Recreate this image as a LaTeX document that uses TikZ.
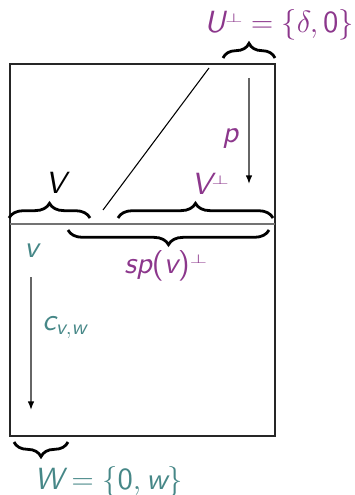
\RequirePackage{fix-cm}
\documentclass[tikz,border=0pt]{standalone}
\usepackage{amsmath}
\usepackage{fontspec}
\setsansfont{lmsans10-regular.otf}[ItalicFont=lmsans10-oblique.otf]
\usetikzlibrary{decorations.pathreplacing,arrows.meta}
\definecolor{vpurple}{RGB}{140,55,140}
\definecolor{vteal}{RGB}{70,135,135}
\newcommand\sv[1]{\textsf{\itshape #1}}
\newcommand\psup{\raisebox{7.5pt}{\scalebox{0.72}[0.42]{$\perp$}}}
\begin{document}
\begin{tikzpicture}[x=0.75pt,y=-0.75pt,
  lab/.style={anchor=base west,inner sep=0pt,font=\fontsize{23}{28}\selectfont},
  brc/.style={decorate,decoration={brace,amplitude=11pt},line width=2.1pt},
  brcm/.style={decorate,decoration={brace,amplitude=11pt,mirror},line width=2.1pt},
  arr/.style={draw=black!60,line width=1.1pt,-{Latex[length=6.5pt,width=5pt,color=black]}},
  box/.style={draw=black!85,line width=0.8pt}]
\useasboundingbox (0,0) rectangle (354,495);
% box
\coordinate (tl) at (10,64);
\coordinate (br) at (275,436);
\draw[box] (tl) rectangle (br);
\coordinate (ml) at (10,224);
\coordinate (mr) at (275,224);
\draw[draw=black!55,line width=1.1pt] (ml) -- (mr);
% diagonal
\coordinate (d1) at (209,68);
\coordinate (d2) at (103,210);
\draw[line width=0.8pt] (d1) -- (d2);
% arrows
\coordinate (p1) at (249,78);
\coordinate (p2) at (249,184);
\draw[arr] (p1) -- (p2);
\coordinate (c1) at (31,277);
\coordinate (c2) at (31,410);
\draw[arr] (c1) -- (c2);
% braces
\coordinate (ua) at (223,58); \coordinate (ub) at (275,58);
\draw[brc] (ua) -- (ub);
\coordinate (va) at (9,218); \coordinate (vb) at (90,218);
\draw[brc] (va) -- (vb);
\coordinate (wa) at (118,218); \coordinate (wb) at (273,218);
\draw[brc] (wa) -- (wb);
\coordinate (sa) at (68,230); \coordinate (sb) at (269,230);
\draw[brcm] (sa) -- (sb);
\coordinate (xa) at (14,442); \coordinate (xb) at (68,442);
\draw[brcm] (xa) -- (xb);
% labels
\node[lab,text=vpurple] (U) at (204,33) {$\sv{U}\psup=\{\delta,\textsf{0}\}$};
\node[lab,text=vpurple] (p) at (222,143) {\sv{p}};
\node[lab] (V) at (45,194) {\sv{V}};
\node[lab,text=vpurple] (Vp) at (191,195) {$\sv{V}\psup$};
\node[lab,text=vpurple] (sp) at (124,273) {$\sv{sp}\textsf{(}\sv{v}\textsf{)}\psup$};
\node[lab,text=vteal] (v) at (24,257) {\sv{v}};
\node[lab,text=vteal] (c) at (42,330) {$\sv{c}_{\sv{v},\sv{w}}$};
\node[lab,text=vteal] (W) at (34,489) {$\sv{W}=\{\textsf{0},\sv{w}\}$};
\end{tikzpicture}
\end{document}
